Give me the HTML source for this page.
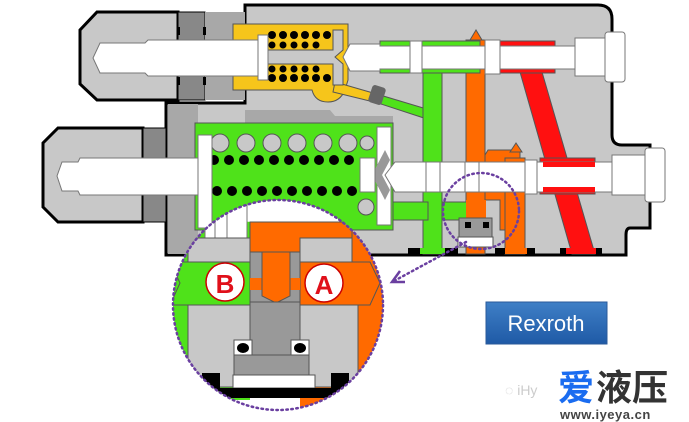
<!DOCTYPE html>
<html><head><meta charset="utf-8"><style>
html,body{margin:0;padding:0;background:#fff;width:689px;height:422px;overflow:hidden}
svg{display:block}
</style></head><body>
<svg width="689" height="422" viewBox="0 0 689 422" xmlns="http://www.w3.org/2000/svg">
<defs>
<linearGradient id="bl" x1="0" y1="0" x2="0" y2="1"><stop offset="0" stop-color="#3f7fc6"/><stop offset="1" stop-color="#1f5aa6"/></linearGradient>
<clipPath id="cc"><circle cx="278" cy="305" r="105"/></clipPath>
</defs>
<path d="M245 5 H598 Q612 5 612 19 V135 Q612 145 622 145 H650 V228 H630 Q626 228 626 235 V255 H166 V103 H245 Z" fill="#c8c8c8" stroke="#000" stroke-width="3"/>
<rect x="168" y="104" width="30" height="150" fill="#a8a8a8"/>
<path d="M245 60 H325 L330 66 H345 V80 H245Z" fill="#a8a8a8"/>
<path d="M245 110 H330 L335 116 H393 V123 H245Z" fill="#a8a8a8"/>
<path d="M97 12 H178 V100 H97 L80 84 V30 Z" fill="#c8c8c8" stroke="#000" stroke-width="3"/>
<rect x="178" y="12" width="27" height="88" fill="#888" stroke="#000" stroke-width="1"/>
<rect x="205" y="12" width="40" height="88" fill="#a8a8a8"/>
<rect x="177" y="27" width="3" height="8" fill="#000"/><rect x="203" y="27" width="3" height="8" fill="#000"/>
<rect x="177" y="77" width="3" height="8" fill="#000"/><rect x="203" y="77" width="3" height="8" fill="#000"/>
<path d="M233 24 H348 V80 L345 90 Q340 102 328 102 Q315 102 312 90 H233Z" fill="#f6c51b" stroke="#555" stroke-width="1"/>
<path d="M335 82 L380 95 L378 103 L333 92Z" fill="#f6c51b" stroke="#555"/>
<path d="M380 95 L430 110 V120 L378 103Z" fill="#4fe21a" stroke="#555"/>
<rect x="370" y="86" width="14" height="18" rx="3" fill="#666" transform="rotate(18 377 95)"/>
<g fill="#000">
<circle cx="272" cy="35" r="4"/><circle cx="283" cy="35" r="4"/><circle cx="294" cy="35" r="4"/><circle cx="305" cy="35" r="4"/><circle cx="316" cy="35" r="4"/><circle cx="327" cy="35" r="4"/>
<circle cx="272" cy="45" r="3.5"/><circle cx="283" cy="45" r="3.5"/><circle cx="294" cy="45" r="3.5"/><circle cx="305" cy="45" r="3.5"/><circle cx="316" cy="45" r="3.5"/>
<circle cx="272" cy="69" r="3.5"/><circle cx="283" cy="69" r="3.5"/><circle cx="294" cy="69" r="3.5"/><circle cx="305" cy="69" r="3.5"/><circle cx="316" cy="69" r="3.5"/>
<circle cx="272" cy="78" r="4"/><circle cx="283" cy="78" r="4"/><circle cx="294" cy="78" r="4"/><circle cx="305" cy="78" r="4"/><circle cx="316" cy="78" r="4"/><circle cx="327" cy="78" r="4"/>
</g>
<path d="M268 50 H333 V30 H343 V50 L335 57 L343 64 V85 H333 V64 H268Z" fill="#c8c8c8" stroke="#555"/>
<path d="M100 43 H145 L148 40 H258 V76 H148 L145 73 H100 L93 58Z" fill="#fff" stroke="#777"/>
<rect x="258" y="35" width="10" height="45" fill="#fff" stroke="#777"/>
<rect x="423" y="62" width="19" height="192" fill="#4fe21a" stroke="#555"/>
<rect x="466" y="40" width="19" height="214" fill="#ff6a00" stroke="#555"/>
<path d="M470 40 L476 30 L482 40Z" fill="#ff6a00" stroke="#555"/>
<path d="M520 72 L542 72 L595 254 L572 254Z" fill="#ff1010" stroke="#555"/>
<!-- upper spool bands -->
<rect x="380" y="41" width="100" height="32" fill="#4fe21a" stroke="#555"/>
<rect x="495" y="41" width="60" height="32" fill="#ff1010" stroke="#555"/>
<path d="M343 57 L350 44 H380 V46 H600 V69 H380 V71 H350Z" fill="#fff" stroke="#777"/>
<rect x="410" y="41" width="12" height="32" fill="#fff" stroke="#777"/>
<rect x="485" y="40" width="15" height="34" fill="#fff" stroke="#777"/>
<rect x="575" y="38" width="30" height="38" fill="#fff" stroke="#777"/>
<rect x="605" y="32" width="20" height="50" rx="3" fill="#fff" stroke="#777"/>
<path d="M58 128 H143 V222 H58 L43 207 V143 Z" fill="#c8c8c8" stroke="#000" stroke-width="3"/>
<rect x="143" y="128" width="23" height="94" fill="#888" stroke="#000"/>
<rect x="195" y="123" width="198" height="107" fill="#4fe21a" stroke="#555"/>
<g fill="#c8c8c8" stroke="#555">
<circle cx="220" cy="143" r="9"/><circle cx="246" cy="143" r="9"/><circle cx="272" cy="143" r="9"/><circle cx="297" cy="143" r="9"/><circle cx="323" cy="143" r="9"/><circle cx="348" cy="143" r="9"/><circle cx="367" cy="143" r="7"/>
<circle cx="366" cy="207" r="8"/>
</g>
<g fill="#000">
<circle cx="214" cy="160" r="5"/><circle cx="229" cy="160" r="5"/><circle cx="244" cy="160" r="5"/><circle cx="259" cy="160" r="5"/><circle cx="274" cy="160" r="5"/><circle cx="289" cy="160" r="5"/><circle cx="304" cy="160" r="5"/><circle cx="319" cy="160" r="5"/><circle cx="334" cy="160" r="5"/><circle cx="349" cy="160" r="5"/>
<circle cx="217" cy="191" r="5"/><circle cx="232" cy="191" r="5"/><circle cx="247" cy="191" r="5"/><circle cx="262" cy="191" r="5"/><circle cx="277" cy="191" r="5"/><circle cx="292" cy="191" r="5"/><circle cx="307" cy="191" r="5"/><circle cx="322" cy="191" r="5"/><circle cx="337" cy="191" r="5"/><circle cx="352" cy="191" r="5"/>
</g>
<rect x="198" y="135" width="14" height="93" fill="#fff" stroke="#777"/>
<rect x="377" y="127" width="14" height="98" fill="#fff" stroke="#777"/>
<path d="M372 175 L385 150 L390 160 L382 175 L390 190 L385 200Z" fill="#999"/>
<rect x="360" y="158" width="15" height="34" fill="#fff" stroke="#777"/>
<path d="M80 158 H198 V195 H80 L78 191 H62 L57 176 L62 162 H78Z" fill="#fff" stroke="#777"/>
<rect x="393" y="202" width="35" height="18" fill="#4fe21a" stroke="#555"/>
<rect x="442" y="202" width="35" height="18" fill="#4fe21a" stroke="#555"/>
<path d="M485 162 V155 L488 150 H520 V230 H500 V200 H485Z" fill="#ff6a00" stroke="#555"/>
<path d="M510 152 L516 143 L522 152Z" fill="#ff6a00" stroke="#555"/>
<rect x="466" y="200" width="20" height="22" fill="#ff6a00"/>
<rect x="505" y="158" width="20" height="96" fill="#ff6a00" stroke="#555"/>
<rect x="540" y="158" width="55" height="36" fill="#ff1010" stroke="#555"/>
<path d="M385 175 L395 162 H612 V192 H395Z" fill="#fff" stroke="#777"/>
<rect x="543" y="162" width="52" height="5" fill="#ff1010"/>
<rect x="543" y="187" width="52" height="5" fill="#ff1010"/>
<rect x="426" y="162" width="14" height="30" fill="#fff" stroke="#777"/>
<rect x="465" y="162" width="14" height="30" fill="#fff" stroke="#777"/>
<rect x="525" y="160" width="12" height="34" fill="#fff" stroke="#777"/>
<rect x="612" y="155" width="33" height="40" fill="#fff" stroke="#777"/>
<rect x="645" y="148" width="20" height="54" rx="3" fill="#fff" stroke="#777"/>
<rect x="459" y="218" width="33" height="20" fill="#999" stroke="#555"/>
<rect x="465" y="222" width="6" height="6" fill="#000"/><rect x="483" y="222" width="6" height="6" fill="#000"/>
<rect x="458" y="237" width="35" height="10" fill="#fff" stroke="#555"/>
<rect x="408" y="248" width="50" height="6" fill="#000"/><rect x="420" y="248" width="25" height="6" fill="#4fe21a"/>
<rect x="495" y="248" width="40" height="6" fill="#000"/><rect x="505" y="248" width="22" height="6" fill="#ff6a00"/>
<rect x="560" y="248" width="42" height="6" fill="#000"/><rect x="566" y="248" width="30" height="6" fill="#ff1010"/>
<circle cx="481" cy="211" r="38" fill="none" stroke="#6a3fa0" stroke-width="2.5" stroke-dasharray="1.5 3.5" stroke-linecap="round"/>
<g clip-path="url(#cc)">
<rect x="170" y="195" width="220" height="220" fill="#fff"/>
<path d="M170 210 L250 222 V400 H170Z" fill="#4fe21a"/>
<rect x="300" y="222" width="90" height="190" fill="#ff6a00"/>
<rect x="205" y="200" width="10" height="40" fill="#fff" stroke="#777"/>
<rect x="215" y="200" width="12" height="40" fill="#fff" stroke="#777"/>
<rect x="227" y="200" width="20" height="40" fill="#fff" stroke="#777"/>
<path d="M250 222 H345 L352 230 V252 H250Z" fill="#ff6a00" stroke="#555"/>
<rect x="188" y="238" width="62" height="24" fill="#c8c8c8" stroke="#555"/>
<rect x="300" y="238" width="52" height="24" fill="#c8c8c8" stroke="#555"/>
<path d="M170 305 L180 283 L170 262 H250 V305Z" fill="#4fe21a" stroke="#555"/>
<path d="M300 262 H370 L380 283 L370 305 H300Z" fill="#ff6a00" stroke="#555"/>
<rect x="250" y="252" width="50" height="50" fill="#999" stroke="#555"/>
<rect x="250" y="278" width="50" height="12" fill="#ff6a00"/>
<path d="M262 252 H290 V296 L276 303 L262 296Z" fill="#ff6a00" stroke="#555"/>
<rect x="250" y="302" width="50" height="73" fill="#999" stroke="#555"/>
<rect x="188" y="305" width="62" height="82" fill="#c8c8c8" stroke="#555"/>
<rect x="300" y="305" width="58" height="82" fill="#c8c8c8" stroke="#555"/>
<rect x="234" y="340" width="18" height="15" fill="#fff" stroke="#555"/><ellipse cx="243" cy="348" rx="6" ry="5" fill="#000"/>
<rect x="291" y="340" width="18" height="15" fill="#fff" stroke="#555"/><ellipse cx="300" cy="348" rx="6" ry="5" fill="#000"/>
<rect x="234" y="355" width="75" height="20" fill="#999" stroke="#555"/>
<rect x="233" y="375" width="82" height="13" fill="#fff" stroke="#555"/>
<rect x="202" y="373" width="18" height="16" fill="#000"/><rect x="331" y="373" width="18" height="16" fill="#000"/>
<rect x="190" y="388" width="170" height="10" fill="#000"/>
</g>
<circle cx="225" cy="282" r="19" fill="#fff" stroke="#c00" stroke-width="1.5"/>
<text x="225" y="293" font-family="Liberation Sans, sans-serif" font-weight="bold" font-size="26" fill="#e0101a" text-anchor="middle">B</text>
<circle cx="324" cy="283" r="19" fill="#fff" stroke="#c00" stroke-width="1.5"/>
<text x="324" y="294" font-family="Liberation Sans, sans-serif" font-weight="bold" font-size="26" fill="#e0101a" text-anchor="middle">A</text>
<circle cx="278" cy="305" r="105" fill="none" stroke="#6a3fa0" stroke-width="2.5" stroke-dasharray="1.5 3.5" stroke-linecap="round"/>
<path d="M466 242 L394 281" stroke="#6a3fa0" stroke-width="2.5" stroke-dasharray="1.5 3.5" stroke-linecap="round"/>
<path d="M400 271 L392 282 L405 282" fill="none" stroke="#6a3fa0" stroke-width="2.5"/>
<rect x="486" y="302" width="121" height="42" fill="url(#bl)" stroke="#2a5a9a"/>
<text x="546" y="331" font-family="Liberation Sans, sans-serif" font-size="22" fill="#fff" text-anchor="middle">Rexroth</text>
<text x="505" y="395" font-family="Liberation Sans, sans-serif" font-size="14" fill="#ccc">◌ iHy</text>
<text x="558" y="400" font-family="Liberation Sans, 'Noto Sans CJK SC', sans-serif" font-weight="bold" font-size="36" fill="#1a6cf0">爱</text>
<text x="596" y="400" font-family="Liberation Sans, 'Noto Sans CJK SC', sans-serif" font-weight="bold" font-size="36" fill="#333">液压</text>
<text x="560" y="419" font-family="Liberation Sans, sans-serif" font-weight="bold" font-size="13" fill="#444" letter-spacing="0.5">www.iyeya.cn</text>
</svg>
</body></html>
